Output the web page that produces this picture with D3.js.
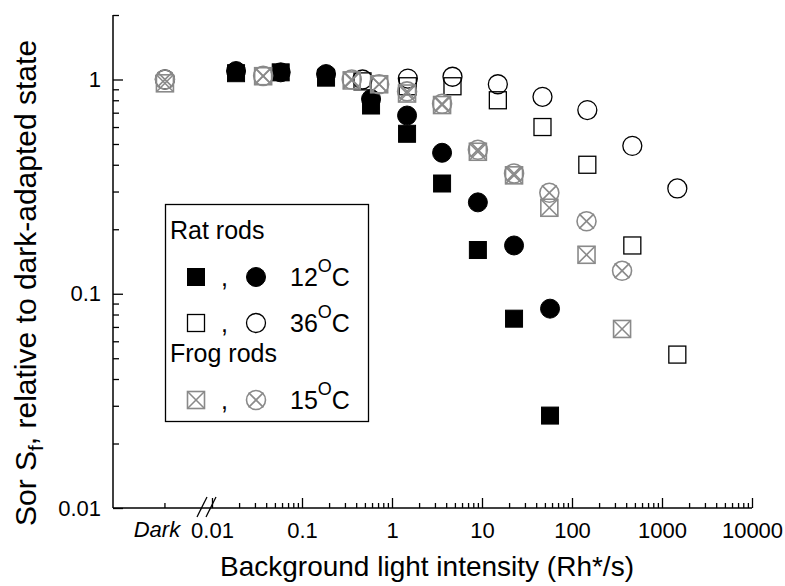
<!DOCTYPE html>
<html><head><meta charset="utf-8">
<script src="https://cdn.jsdelivr.net/npm/d3@7"></script>
<style>
body{margin:0;background:#fff}
text{font-family:Arial,"Liberation Sans",sans-serif;fill:#000}
</style>
</head><body>
<svg id="c" width="785" height="586"></svg>
<script>
// ---------- data ----------
const xTickValues = [0.01, 0.1, 1, 10, 100, 1000, 10000];
const xTickLabels = ["0.01", "0.1", "1", "10", "100", "1000", "10000"];
const darkLabel = "Dark";
const yTickValues = [0.01, 0.1, 1];
const yTickLabels = ["0.01", "0.1", "1"];

// Rat rods 12 C (filled)
const rat12X      = [0.0185, 0.058, 0.185, 0.585, 1.47, 3.6, 9.0, 22.7, 57];
const rat12SqY    = [1.07, 1.08, 1.02, 0.756, 0.558, 0.327, 0.160, 0.0765, 0.0270];
const rat12CircY  = [1.095, 1.08, 1.06, 0.81, 0.679, 0.455, 0.267, 0.168, 0.0852];
// Rat rods 36 C (open)
const rat36X      = [0.47, 1.5, 4.7, 15, 47, 148, 468, 1480];
const rat36CircY  = [1.0, 1.01, 1.03, 0.95, 0.83, 0.72, 0.49, 0.31];
const rat36SqY    = [0.98, 0.93, 0.93, 0.80, 0.60, 0.40, 0.168, 0.052];
const rat36DarkCirc = 1.0;
// Frog rods 15 C (crossed, gray)
const frogX       = [0.037, 0.357, 0.72, 1.47, 3.6, 9.0, 22.7, 56, 145, 360];
const frogSqY     = [1.036, 0.99, 0.95, 0.86, 0.76, 0.46, 0.357, 0.252, 0.152, 0.0685];
const frogCircY   = [1.04, 1.0, 0.95, 0.88, 0.77, 0.47, 0.364, 0.296, 0.218, 0.128];
const frogDarkSq  = 0.96;
const frogDarkCirc = 1.0;

const legendTitles = ["Rat rods", "Frog rods"];
const legendTemps = ["12", "36", "15"];

// ---------- layout ----------
const svg = d3.select("#c");
const pLeft = 113, pRight = 752, pTop = 15, pBottom = 508;
const gray = "#8a8a8a";

const x = d3.scaleLog().domain([0.01, 10000]).range([212, pRight]);
const y = d3.scaleLog().domain([0.01, 2]).range([pBottom, pTop]);
const darkPos = x(0.003);

// ---------- axes ----------
const minorX = [];
for (let e = -2; e < 4; e++) for (let m = 2; m <= 9; m++) minorX.push(m * Math.pow(10, e));
const minorY = [];
for (let e = -2; e < 0; e++) for (let m = 2; m <= 9; m++) minorY.push(m * Math.pow(10, e));
minorY.push(2);

const gx = svg.append("g").attr("transform", `translate(0,${pBottom})`);
gx.call(d3.axisBottom(x).tickValues(xTickValues).tickFormat((d, i) => xTickLabels[i])
  .tickSize(-10).tickSizeOuter(0).tickPadding(14));
gx.select(".domain").remove();
gx.selectAll("text").style("font-size", "22px").style("font-family", "Arial, 'Liberation Sans', sans-serif");
gx.selectAll("line").attr("stroke", "#000").attr("stroke-width", 1.3);
const gxm = svg.append("g").attr("transform", `translate(0,${pBottom})`);
gxm.call(d3.axisBottom(x).tickValues(minorX).tickFormat("").tickSize(-5).tickSizeOuter(0));
gxm.select(".domain").remove();
gxm.selectAll("line").attr("stroke", "#000").attr("stroke-width", 1.3);

// dark tick + label
svg.append("line").attr("x1", darkPos).attr("x2", darkPos).attr("y1", pBottom).attr("y2", pBottom - 5)
  .attr("stroke", "#000").attr("stroke-width", 1.3);
svg.append("text").attr("x", darkPos - 8).attr("y", pBottom + 29).attr("text-anchor", "middle")
  .style("font-size", "22px").style("font-style", "italic").text(darkLabel);

const gy = svg.append("g").attr("transform", `translate(${pLeft},0)`);
gy.call(d3.axisLeft(y).tickValues(yTickValues).tickFormat((d, i) => yTickLabels[i])
  .tickSize(-10).tickSizeOuter(0).tickPadding(12));
gy.select(".domain").remove();
gy.selectAll("text").style("font-size", "22px").style("font-family", "Arial, 'Liberation Sans', sans-serif");
gy.selectAll("line").attr("stroke", "#000").attr("stroke-width", 1.3);
const gym = svg.append("g").attr("transform", `translate(${pLeft},0)`);
gym.call(d3.axisLeft(y).tickValues(minorY).tickFormat("").tickSize(-6).tickSizeOuter(0));
gym.select(".domain").remove();
gym.selectAll("line").attr("stroke", "#000").attr("stroke-width", 1.3);

// axis lines
svg.append("line").attr("x1", pLeft).attr("x2", pLeft).attr("y1", pTop).attr("y2", pBottom)
  .attr("stroke", "#000").attr("stroke-width", 1.5);
svg.append("line").attr("x1", pLeft).attr("x2", pRight).attr("y1", pBottom).attr("y2", pBottom)
  .attr("stroke", "#000").attr("stroke-width", 1.5);

// axis break
[[197, 207], [206, 216]].forEach(([a, b]) => {
  svg.append("line").attr("x1", a).attr("y1", pBottom + 9).attr("x2", b).attr("y2", pBottom - 11)
    .attr("stroke", "#000").attr("stroke-width", 1.3);
});

// titles
svg.append("text").attr("x", 427).attr("y", 576).attr("text-anchor", "middle")
  .style("font-size", "28px").text("Background light intensity (Rh*/s)");
const yt = svg.append("text").attr("transform", "translate(36,283) rotate(-90)").attr("text-anchor", "middle")
  .style("font-size", "30px");
yt.append("tspan").text("Sor S");
yt.append("tspan").attr("dy", 7).style("font-size", "21px").text("f");
yt.append("tspan").attr("dy", -7).text(", relative to dark-adapted state");

// ---------- markers ----------
const S = 17, R = 9.5;
function square(g, cx, cy, fill, stroke, sw, cross) {
  g.append("rect").attr("x", cx - S / 2).attr("y", cy - S / 2).attr("width", S).attr("height", S)
    .attr("fill", fill).attr("stroke", stroke).attr("stroke-width", sw);
  if (cross) {
    g.append("line").attr("x1", cx - S / 2).attr("y1", cy - S / 2).attr("x2", cx + S / 2).attr("y2", cy + S / 2)
      .attr("stroke", stroke).attr("stroke-width", sw);
    g.append("line").attr("x1", cx - S / 2).attr("y1", cy + S / 2).attr("x2", cx + S / 2).attr("y2", cy - S / 2)
      .attr("stroke", stroke).attr("stroke-width", sw);
  }
}
function circle(g, cx, cy, fill, stroke, sw, cross) {
  g.append("circle").attr("cx", cx).attr("cy", cy).attr("r", R)
    .attr("fill", fill).attr("stroke", stroke).attr("stroke-width", sw);
  if (cross) {
    const k = R * 0.78;
    g.append("line").attr("x1", cx - k).attr("y1", cy - k).attr("x2", cx + k).attr("y2", cy + k)
      .attr("stroke", stroke).attr("stroke-width", sw);
    g.append("line").attr("x1", cx - k).attr("y1", cy + k).attr("x2", cx + k).attr("y2", cy - k)
      .attr("stroke", stroke).attr("stroke-width", sw);
  }
}
const gm = svg.append("g");
// open 36C
rat36X.forEach((v, i) => square(gm, x(v), y(rat36SqY[i]), "none", "#000", 1.3, false));
rat36X.forEach((v, i) => circle(gm, x(v), y(rat36CircY[i]), "none", "#000", 1.3, false));
circle(gm, darkPos, y(rat36DarkCirc), "none", "#000", 1.3, false);
// filled 12C
rat12X.forEach((v, i) => square(gm, x(v), y(rat12SqY[i]), "#000", "#000", 1, false));
rat12X.forEach((v, i) => circle(gm, x(v), y(rat12CircY[i]), "#000", "#000", 1, false));
// frog crossed
square(gm, darkPos, y(frogDarkSq), "none", gray, 1.6, true);
circle(gm, darkPos, y(frogDarkCirc), "none", gray, 1.6, true);
frogX.forEach((v, i) => square(gm, x(v), y(frogSqY[i]), "none", gray, 1.6, true));
frogX.forEach((v, i) => circle(gm, x(v), y(frogCircY[i]), "none", gray, 1.6, true));

// ---------- legend ----------
const lg = svg.append("g");
lg.append("rect").attr("x", 165.5).attr("y", 204.5).attr("width", 203).attr("height", 217)
  .attr("fill", "#fff").attr("stroke", "#000").attr("stroke-width", 1.3);
const lt = (t, xx, yy) => lg.append("text").attr("x", xx).attr("y", yy).style("font-size", "25px").text(t);
lt(legendTitles[0], 170, 239);
lt(legendTitles[1], 170, 362);
const rows = [
  { yy: 277, base: 286, fill: "#000", stroke: "#000", sw: 1, cross: false, t: legendTemps[0] },
  { yy: 323, base: 332, fill: "none", stroke: "#000", sw: 1.3, cross: false, t: legendTemps[1] },
  { yy: 400, base: 409, fill: "none", stroke: gray, sw: 1.6, cross: true, t: legendTemps[2] }
];
rows.forEach(r => {
  square(lg, 196, r.yy, r.fill, r.stroke, r.sw, r.cross);
  circle(lg, 256, r.yy, r.fill, r.stroke, r.sw, r.cross);
  lg.append("text").attr("x", 221).attr("y", r.base).style("font-size", "25px").text(",");
  const tx = lg.append("text").attr("x", 290).attr("y", r.base).style("font-size", "25px");
  tx.append("tspan").text(r.t);
  tx.append("tspan").attr("dy", -14).style("font-size", "18px").text("O");
  tx.append("tspan").attr("dy", 14).text("C");
});
</script>
</body></html>
